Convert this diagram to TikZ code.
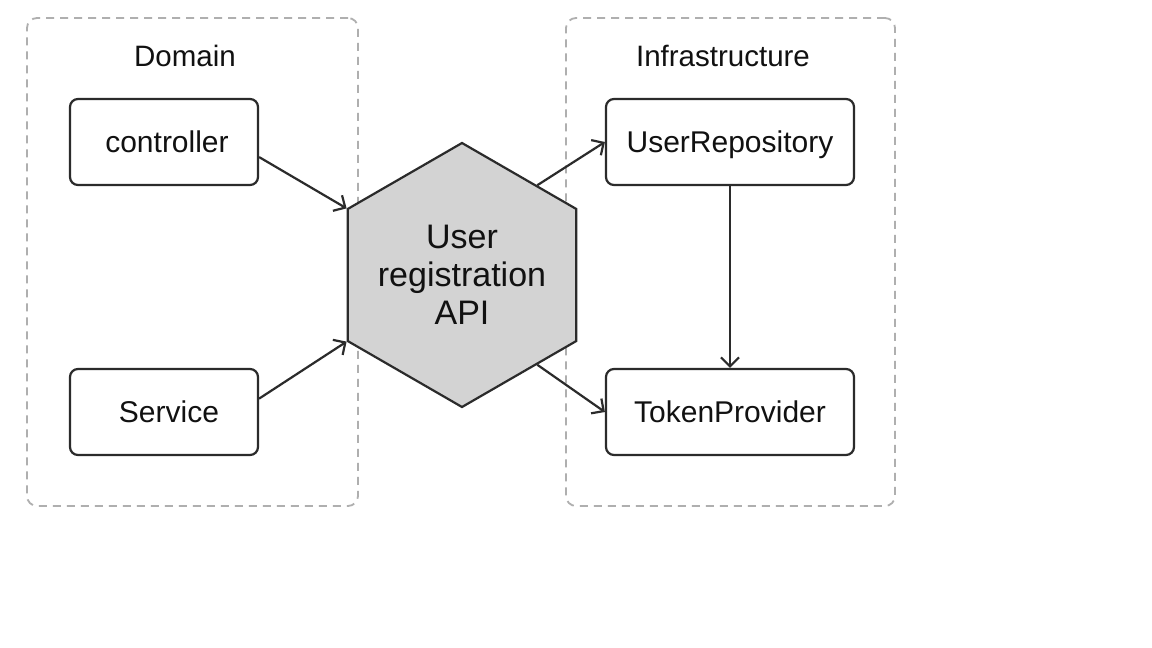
\documentclass[tikz,border=0pt]{standalone}
\usepackage{fontspec}
\setmainfont{Liberation Sans}
\usetikzlibrary{arrows.meta,shapes.geometric}
\definecolor{ink}{HTML}{2B2B2B}
\definecolor{txt}{HTML}{111111}
\definecolor{grp}{HTML}{AFAFAF}
\definecolor{hexfill}{HTML}{D3D3D3}
\tikzset{
  grpbox/.style={draw=grp, line width=1.8pt, dash pattern=on 8pt off 6pt, rounded corners=10pt, inner sep=0pt},
  grplabel/.style={font=\fontsize{29.5}{34}\selectfont, text=txt, inner sep=0pt},
  compbox/.style={draw=ink, line width=2.2pt, rounded corners=8pt, minimum height=86pt, font=\fontsize{30}{34}\selectfont, text=txt, inner sep=0pt, text height=21.5pt, text depth=0pt},
  hexnode/.style={regular polygon, regular polygon sides=6, shape border rotate=30, minimum size=264pt, inner sep=0pt, draw=ink, fill=hexfill, line width=2.2pt},
  hextext/.style={align=center, font=\fontsize{34}{38}\selectfont, text=txt, inner sep=0pt},
  conn/.style={draw=ink, line width=2.2pt, -{Straight Barb[length=9pt,width=18pt,line width=2.2pt]}}
}
\begin{document}
\begin{tikzpicture}[x=1pt,y=-1pt]
\useasboundingbox (0,0) rectangle (1152,648);
\fill[white] (0,0) rectangle (1152,648);
% groups
\node[grpbox, minimum width=331pt, minimum height=488pt] (dom) at (192.5,262) {};
\node[grpbox, minimum width=329pt, minimum height=488pt] (inf) at (730.5,262) {};
\node[grplabel] (domlbl) at (185,56) {Domain};
\node[grplabel] (inflbl) at (723,56) {Infrastructure};
% components
\node[compbox, minimum width=188pt] (ctrl) at (164,142) {\hspace{6pt}controller};
\node[compbox, minimum width=188pt] (svc) at (164,412) {\hspace{10pt}Service};
\node[compbox, minimum width=248pt] (repo) at (730,142) {UserRepository};
\node[compbox, minimum width=248pt] (tok) at (730,412) {TokenProvider};
% hexagon
\node[hexnode, label={[hextext]center:User\\registration\\API}] (api) at (462,275) {};
% connectors
\draw[conn] (ctrl.-9) -- (api.150);
\draw[conn] (svc.8.5) -- (api.210);
\draw[conn] (api.50) -- (repo.west);
\draw[conn] (api.-50) -- (tok.west);
\draw[conn] (repo.south) -- (tok.north);
\end{tikzpicture}
\end{document}
